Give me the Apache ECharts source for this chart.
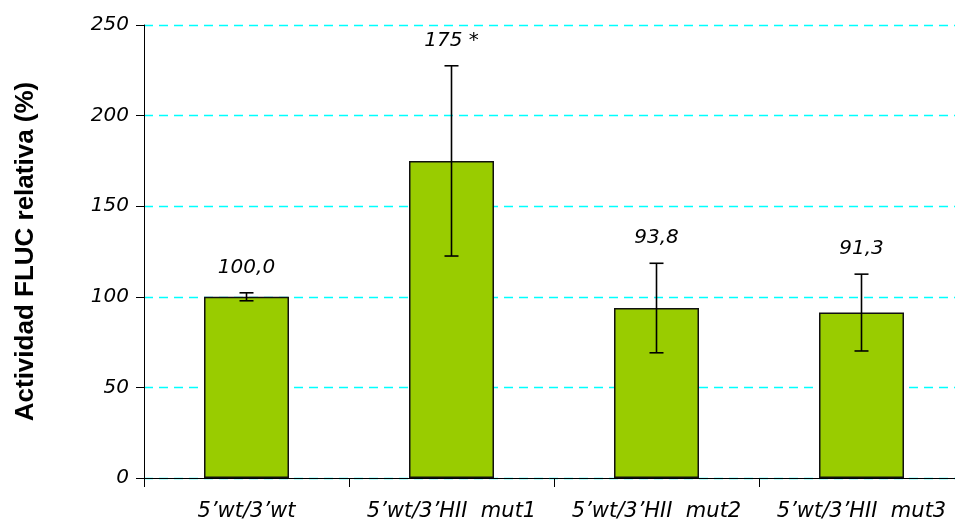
<!DOCTYPE html>
<html>
<head>
<meta charset="utf-8">
<script src="https://cdn.jsdelivr.net/npm/echarts@6/dist/echarts.min.js"></script>
<style>
  html, body { margin: 0; padding: 0; background: #fff; }
  #chart { width: 955px; height: 528px; }
</style>
</head>
<body>
<div id="chart"></div>
<script>
// data
const categories = ["5’wt/3’wt", "5’wt/3’HII  mut1", "5’wt/3’HII  mut2", "5’wt/3’HII  mut3"];
const values = [100, 175, 93.8, 91.3];
const errors = [2.2, 52.5, 24.7, 21.2];
const valueLabels = ["100,0", "175 *", "93,8", "91,3"];
const yTicks = [0, 50, 100, 150, 200, 250];

const chart = echarts.init(document.getElementById("chart"));

const errData = values.map((v, i) => [i, v - errors[i], v + errors[i]]);

chart.setOption({
  animation: false,
  grid: {
    left: 144,
    top: 25,
    width: 820,
    height: 453,
    outerBoundsMode: "none",
    containLabel: false,
  },
  xAxis: {
    type: "category",
    data: categories,
    axisLine: { lineStyle: { color: "#000", width: 1 } },
    axisTick: { show: true, length: 9, lineStyle: { color: "#000" } },
    axisLabel: {
      interval: 0,
      margin: 23,
      color: "#000",
      fontFamily: "DejaVu Sans",
      fontStyle: "italic",
      fontSize: 21,
    },
  },
  yAxis: {
    type: "value",
    min: yTicks[0],
    max: yTicks[yTicks.length - 1],
    interval: 50,
    name: "Actividad FLUC relativa (%)",
    nameLocation: "middle",
    nameGap: 105,
    nameTextStyle: {
      color: "#000",
      fontFamily: "Liberation Sans",
      fontWeight: "bold",
      fontSize: 26,
    },
    axisLine: { show: true, lineStyle: { color: "#000", width: 1 } },
    axisTick: { show: true, length: 8, lineStyle: { color: "#000" } },
    axisLabel: {
      margin: 15,
      color: "#000",
      fontFamily: "DejaVu Sans",
      fontStyle: "italic",
      fontSize: 20,
    },
    splitLine: {
      show: true,
      lineStyle: { color: "#00ffff", type: [9, 6], width: 1.3 },
    },
  },
  series: [
    {
      type: "bar",
      data: values,
      barWidth: 85,
      itemStyle: {
        color: "#99cc00",
        borderColor: "#111",
        borderWidth: 1.5,
      },
      z: 2,
    },
    {
      type: "custom",
      data: errData,
      z: 5,
      renderItem: (params, api) => {
        const i = api.value(0);
        const lo = api.coord([i, api.value(1)]);
        const hi = api.coord([i, api.value(2)]);
        const cap = 7;
        const style = { stroke: "#000", lineWidth: 1.6 };
        return {
          type: "group",
          children: [
            { type: "line", shape: { x1: hi[0], y1: hi[1], x2: lo[0], y2: lo[1] }, style },
            { type: "line", shape: { x1: hi[0] - cap, y1: hi[1], x2: hi[0] + cap, y2: hi[1] }, style },
            { type: "line", shape: { x1: lo[0] - cap, y1: lo[1], x2: lo[0] + cap, y2: lo[1] }, style },
            {
              type: "text",
              x: hi[0],
              y: hi[1] - 25,
              style: {
                text: valueLabels[params.dataIndex],
                fill: "#000",
                font: "italic 20px 'DejaVu Sans'",
                align: "center",
                verticalAlign: "middle",
              },
            },
          ],
        };
      },
    },
  ],
});
</script>
</body>
</html>
